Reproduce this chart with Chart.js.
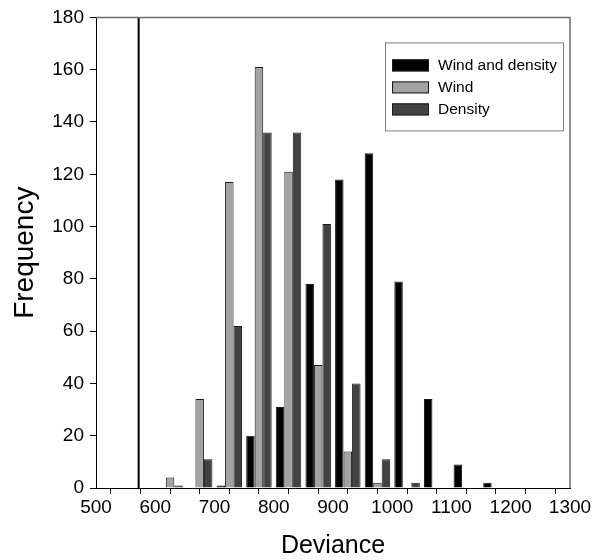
<!DOCTYPE html>
<html>
<head>
<meta charset="utf-8">
<title>Deviance</title>
<script src="https://cdn.jsdelivr.net/npm/chart.js@4.4.1/dist/chart.umd.min.js"></script>
<style>
    html, body { margin: 0; padding: 0; background: #fff; }
    canvas { display: block; }
</style>
</head>
<body>
<canvas id="grafico" width="595" height="560"></canvas>
<script>
// =======================
// DATA
// =======================
const binStart = [600, 650, 700, 750, 800, 850, 900, 950, 1000, 1050, 1100, 1150];
const windAndDensity = [0, 0, 1, 20, 31, 78, 118, 128, 79, 34, 9, 2];
const wind = [4, 34, 117, 161, 121, 47, 14, 2, 0, 0, 0, 0];
const density = [1, 11, 62, 136, 136, 101, 40, 11, 2, 0, 0, 0];

const seriesNames = ["Wind and density", "Wind", "Density"];
const observedDeviance = 572;

const BIN_WIDTH = 50;
const FONT = "'Liberation Sans', Arial, Helvetica, sans-serif";

// =======================
// HELPERS
// =======================
function toPoints(values) {
    return values.map((v, i) => ({ x: binStart[i] + BIN_WIDTH / 2, y: v }));
}

function barSet(label, values, color) {
    return {
        label,
        data: toPoints(values),
        backgroundColor: color,
        borderColor: "#1a1a1a",
        borderWidth: 1,
        categoryPercentage: 0.86,
        barPercentage: 1.0
    };
}

// =======================
// PLUGINS
// =======================
// top and right edges of the frame
const frame = {
    id: "frame",
    afterDatasetsDraw(chart) {
        const { ctx, chartArea: a } = chart;
        ctx.save();
        ctx.strokeStyle = "#6e6e6e";
        ctx.lineWidth = 1.5;
        ctx.beginPath();
        ctx.moveTo(a.left, a.top);
        ctx.lineTo(a.right, a.top);
        ctx.lineTo(a.right, a.bottom);
        ctx.stroke();
        ctx.restore();
    }
};

// boxed legend inside the plot, top right
const boxLegend = {
    id: "boxLegend",
    afterDraw(chart) {
        const { ctx, chartArea: a } = chart;
        const bars = chart.data.datasets.filter(d => d.type !== "line");

        const w = 178, h = 88;
        const x = a.right - 7 - w;
        const y = a.top + 25;

        ctx.save();
        ctx.fillStyle = "#fff";
        ctx.fillRect(x, y, w, h);
        ctx.strokeStyle = "#808080";
        ctx.lineWidth = 1;
        ctx.strokeRect(x + 0.5, y + 0.5, w, h);

        ctx.font = "15.5px " + FONT;
        ctx.textBaseline = "middle";
        ctx.textAlign = "left";

        bars.forEach((d, i) => {
            const rowY = y + 23 + i * 22;
            ctx.fillStyle = d.backgroundColor;
            ctx.fillRect(x + 7, rowY - 6, 37, 12);
            ctx.strokeStyle = "#1a1a1a";
            ctx.strokeRect(x + 7.5, rowY - 5.5, 36, 11);
            ctx.fillStyle = "#000";
            ctx.fillText(d.label, x + 53, rowY);
        });
        ctx.restore();
    }
};

// =======================
// CHART
// =======================
new Chart(document.getElementById("grafico"), {
    type: "bar",
    data: {
        datasets: [
            barSet(seriesNames[0], windAndDensity, "#000000"),
            barSet(seriesNames[1], wind, "#a3a3a3"),
            barSet(seriesNames[2], density, "#424242"),
            {
                type: "line",
                label: "observed",
                data: [{ x: observedDeviance, y: 0 }, { x: observedDeviance, y: 180 }],
                borderColor: "#000",
                borderWidth: 2,
                pointRadius: 0
            }
        ]
    },
    options: {
        responsive: false,
        animation: false,
        layout: { padding: { top: 15, right: 25, left: 0, bottom: 0 } },
        plugins: {
            legend: { display: false },
            tooltip: { enabled: false }
        },
        scales: {
            x: {
                type: "linear",
                min: 500,
                max: 1300,
                offset: false,
                border: { display: true, color: "#000", width: 1 },
                grid: { drawOnChartArea: false, drawTicks: true, tickLength: 6, color: "#000" },
                ticks: {
                    stepSize: 50,
                    autoSkip: false,
                    maxRotation: 0,
                    padding: 2,
                    color: "#000",
                    font: { family: FONT, size: 19 },
                    callback: v => (v % 100 === 0 ? v : "")
                },
                title: {
                    display: true,
                    text: "Deviance",
                    color: "#000",
                    font: { family: FONT, size: 25, lineHeight: 1.1 },
                    padding: { top: 0, bottom: 0 }
                },
                afterFit: s => { s.height = 72; }
            },
            y: {
                min: 0,
                max: 180,
                border: { display: true, color: "#000", width: 1 },
                grid: { drawOnChartArea: false, drawTicks: true, tickLength: 6, color: "#000" },
                ticks: {
                    stepSize: 20,
                    padding: 6,
                    color: "#000",
                    font: { family: FONT, size: 19 }
                },
                title: {
                    display: true,
                    text: "Frequency",
                    color: "#000",
                    font: { family: FONT, size: 28 },
                    padding: { top: 8, bottom: 0 }
                },
                afterFit: s => { s.width = 96; }
            }
        }
    },
    plugins: [frame, boxLegend]
});
</script>
</body>
</html>
